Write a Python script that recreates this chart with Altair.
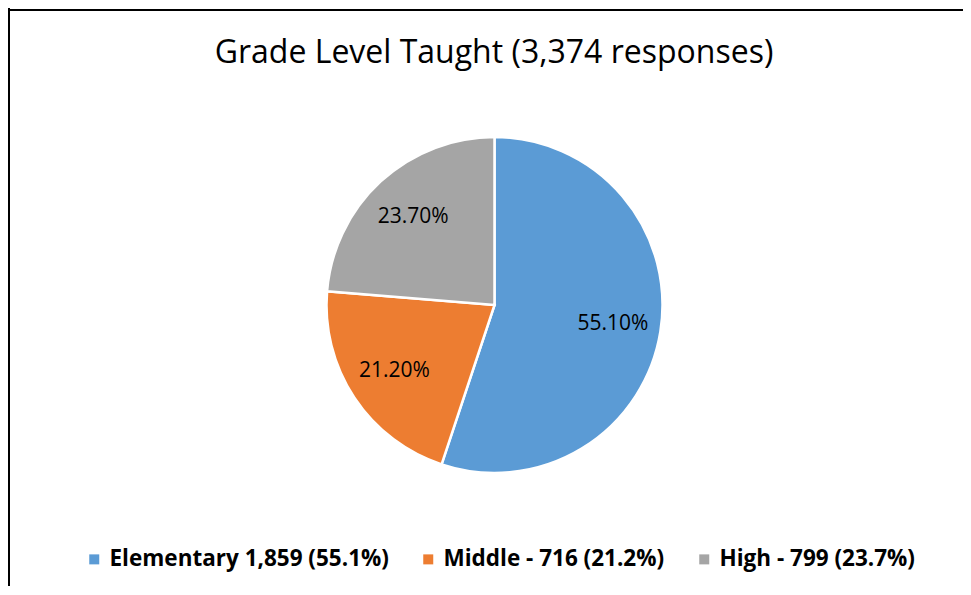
import altair as alt
import pandas as pd

# ---- data ----
title_text = "Grade Level Taught (3,374 responses)"
categories = ["Elementary", "Middle", "High"]
legend_labels = ["Elementary 1,859 (55.1%)", "Middle - 716 (21.2%)", "High - 799 (23.7%)"]
percents = [55.1, 21.2, 23.7]
slice_labels = ["55.10%", "21.20%", "23.70%"]
colors = ["#5B9BD5", "#ED7D31", "#A5A5A5"]

df = pd.DataFrame({
    "category": categories,
    "legend": legend_labels,
    "value": percents,
    "label": slice_labels,
    "order": list(range(len(categories))),
})
title_df = pd.DataFrame({"t": [title_text]})
one = pd.DataFrame({"a": [0]})

W, H = 955, 578
CX, CY, R = 486.5, 297, 168
FONT = "Open Sans"

base = alt.Chart(df).encode(
    theta=alt.Theta("value:Q", stack=True),
    order=alt.Order("order:Q"),
)

pie = base.mark_arc(outerRadius=R, stroke="white", strokeWidth=2.5).encode(
    x=alt.value(CX),
    y=alt.value(CY),
    color=alt.Color(
        "legend:N",
        scale=alt.Scale(domain=legend_labels, range=colors),
        sort=legend_labels,
        legend=alt.Legend(
            title=None,
            orient="none",
            legendX=75,
            legendY=540,
            direction="horizontal",
            columns=3,
            symbolType="square",
            symbolSize=100,
            symbolStrokeWidth=0,
            symbolOpacity=1,
            labelFont=FONT,
            labelFontWeight="bold",
            labelFontSize=22.5,
            labelColor="#000000",
            labelOffset=4,
            labelLimit=400,
            columnPadding=28,
        ),
    ),
)

labels = base.mark_text(radius=120, font=FONT, fontSize=21, color="#000000").encode(
    x=alt.value(CX),
    y=alt.value(CY),
    text="label:N",
)

title = alt.Chart(title_df).mark_text(
    font=FONT, fontSize=32, color="#000000", align="center", baseline="alphabetic"
).encode(x=alt.value(486), y=alt.value(55), text="t:N")

left_border = alt.Chart(one).mark_rule(color="#000000", strokeWidth=2).encode(
    x=alt.value(1), y=alt.value(0), y2=alt.value(H)
)
top_border = alt.Chart(one).mark_rule(color="#000000", strokeWidth=2).encode(
    y=alt.value(2), x=alt.value(0), x2=alt.value(W)
)

chart = alt.layer(pie, labels, title, left_border, top_border).properties(
    width=W,
    height=H,
    padding=0,
    autosize=alt.AutoSizeParams(type="none"),
    background="white",
).configure_view(stroke=None)

chart.save("out.html", embed_options={"renderer": "svg", "actions": False})
